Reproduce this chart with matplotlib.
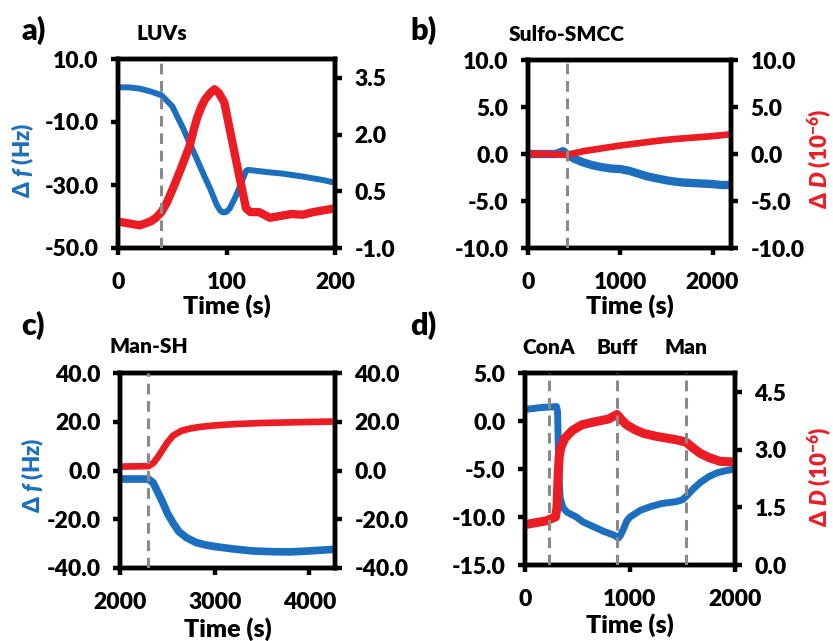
import matplotlib
matplotlib.use("Agg")
import matplotlib.pyplot as plt
import numpy as np

plt.rcParams['font.family'] = ['Lato', 'DejaVu Sans']
plt.rcParams['font.weight'] = 'heavy'
plt.rcParams['mathtext.fontset'] = 'custom'
plt.rcParams['mathtext.rm'] = 'Lato:heavy'
plt.rcParams['mathtext.it'] = 'Lato:italic:heavy'
plt.rcParams['mathtext.bf'] = 'Lato:heavy'

BLUE = '#1c6fbe'
RED = '#ec1c24'
GRAY = '#8a8a8a'
WT = 'heavy'

# ---- panel a: LUVs ----
a_t_f = [0, 10, 20, 30, 40, 50, 60, 66, 70, 80, 85, 88, 91, 94, 96, 98, 100, 103, 108, 113, 118, 120, 130, 140, 150, 160, 170, 180, 190, 200]
a_f = [1.0, 1.0, 0.6, -0.3, -1.5, -5.0, -12.0, -16.7, -19.7, -27.5, -31.2, -33.8, -36.3, -38.0, -38.6, -38.7, -38.5, -37.4, -34.0, -30.0, -25.5, -25.2, -25.6, -26.0, -26.3, -26.8, -27.3, -27.9, -28.5, -29.3]
a_t_d = [0, 10, 20, 30, 35, 40, 45, 51, 58, 66, 70, 73, 77, 80, 85, 89, 93, 98, 104, 110, 114, 118, 122, 130, 140, 150, 160, 170, 180, 190, 200]
a_d = [-0.3, -0.35, -0.4, -0.3, -0.2, -0.05, 0.2, 0.6, 1.1, 1.7, 2.15, 2.45, 2.75, 2.92, 3.1, 3.2, 3.1, 2.85, 2.0, 1.15, 0.6, 0.05, -0.05, -0.05, -0.2, -0.15, -0.1, -0.12, -0.05, 0.0, 0.05]
a_inject = [40]
a_names = ['LUVs']

# ---- panel b: Sulfo-SMCC ----
b_t_f = [0, 300, 380, 420, 500, 600, 700, 800, 900, 1000, 1100, 1200, 1300, 1400, 1500, 1600, 1700, 1800, 1900, 2000, 2100, 2200]
b_f = [0.0, 0.0, 0.3, 0.0, -0.5, -0.9, -1.2, -1.4, -1.55, -1.6, -1.8, -2.1, -2.4, -2.6, -2.8, -2.95, -3.05, -3.1, -3.15, -3.2, -3.3, -3.3]
b_t_d = [0, 200, 420, 600, 800, 1000, 1200, 1400, 1600, 1800, 2000, 2200]
b_d = [0.0, 0.0, -0.1, 0.3, 0.6, 0.9, 1.15, 1.4, 1.6, 1.75, 1.9, 2.1]
b_inject = [420]
b_names = ['Sulfo-SMCC']

# ---- panel c: Man-SH ----
c_t_f = [2000, 2300, 2350, 2400, 2450, 2500, 2560, 2620, 2700, 2800, 2900, 3000, 3200, 3400, 3600, 3800, 4000, 4270]
c_f = [-3.5, -3.5, -5.0, -9.0, -13.0, -17.5, -21.5, -25.0, -27.5, -29.5, -30.5, -31.2, -32.2, -33.0, -33.3, -33.4, -33.0, -32.3]
c_t_d = [2000, 2300, 2350, 2400, 2450, 2500, 2560, 2650, 2750, 2850, 3000, 3200, 3500, 4000, 4270]
c_d = [1.6, 1.8, 3.0, 5.5, 8.5, 11.5, 14.3, 16.3, 17.3, 17.9, 18.5, 19.0, 19.5, 19.9, 20.1]
c_inject = [2300]
c_names = ['Man-SH']

# ---- panel d: ConA / Buff / Man ----
d_t_f = [0, 150, 300, 310, 318, 325, 335, 360, 400, 490, 550, 650, 750, 850, 890, 910, 940, 970, 1000, 1100, 1200, 1300, 1440, 1500, 1540, 1600, 1670, 1750, 1830, 1900, 2000]
d_f = [1.2, 1.4, 1.5, 1.0, -3.0, -6.0, -8.0, -9.0, -9.5, -10.0, -10.5, -11.0, -11.5, -11.9, -12.2, -11.9, -11.2, -10.4, -10.0, -9.3, -8.9, -8.6, -8.4, -8.2, -7.8, -7.1, -6.4, -5.8, -5.4, -5.2, -5.0]
d_t_d = [0, 100, 200, 290, 305, 315, 325, 340, 380, 450, 540, 650, 794, 876, 920, 968, 1050, 1127, 1250, 1444, 1533, 1600, 1667, 1750, 1857, 2000]
d_d = [1.05, 1.1, 1.15, 1.25, 1.5, 2.3, 2.8, 3.05, 3.3, 3.5, 3.65, 3.72, 3.8, 3.92, 3.78, 3.65, 3.52, 3.43, 3.35, 3.26, 3.2, 3.05, 2.91, 2.8, 2.7, 2.68]
d_inject = [230, 880, 1530]
d_names = ['ConA', 'Buff', 'Man']

W, H = 833, 641
fig = plt.figure(figsize=(W / 100, H / 100), dpi=100)


def rect(l, t, r, b):
    return [l / W, 1 - b / H, (r - l) / W, (b - t) / H]


TICK_FS = 16.5


def style(ax):
    for s in ax.spines.values():
        s.set_linewidth(3.2)
    ax.tick_params(direction='out', length=5, width=3.2, labelsize=TICK_FS)
    ax.tick_params(axis='y', pad=9)
    ax.tick_params(axis='x', pad=12)
    for t in ax.get_xticklabels() + ax.get_yticklabels():
        t.set_fontweight(WT)


def panel(pos, tf, f, td, d, inj, names, xlim, xticks, ylim_l, yticks_l, ylim_r, yticks_r,
          lbl, lbl_xy, xlab_y, left_label, right_label, blue_lw=4.5, red_lw=5.0):
    ax = fig.add_axes(rect(*pos))
    ax2 = ax.twinx()
    ax.plot(tf, f, color=BLUE, lw=blue_lw, solid_capstyle='butt', solid_joinstyle='round')
    ax2.plot(td, d, color=RED, lw=red_lw, solid_capstyle='butt', solid_joinstyle='round')
    for xv, nm in zip(inj, names):
        ax2.axvline(xv, color=GRAY, lw=2.2, dashes=(3.5, 2.2), zorder=5)
        ax2.text(xv, 1.135, nm, transform=ax2.get_xaxis_transform(), ha='center', va='center',
                 fontsize=15, fontweight=WT)
    ax.set_xlim(*xlim)
    ax.set_xticks(xticks)
    ax.set_ylim(*ylim_l)
    ax.set_yticks(yticks_l)
    ax.set_yticklabels([f'{v:.1f}' for v in yticks_l])
    ax2.set_ylim(*ylim_r)
    ax2.set_yticks(yticks_r)
    ax2.set_yticklabels([f'{v:.1f}' for v in yticks_r])
    style(ax)
    style(ax2)
    ax.set_xlabel('Time (s)', fontsize=18, fontweight=WT)
    ax.xaxis.label.set_va('center')
    ax.xaxis.set_label_coords(0.5, xlab_y)
    if left_label:
        ax.set_ylabel('Δ $\\mathit{f}$ (Hz)', color=BLUE, fontsize=16, fontweight=WT)
        ax.yaxis.label.set_va('center')
        ax.yaxis.set_label_coords(*left_label)
    if right_label:
        ax2.set_ylabel('Δ $\\mathit{D}$ (10$^{-6}$)', color=RED, fontsize=16, fontweight=WT, rotation=90)
        ax2.yaxis.label.set_va('center')
        ax2.yaxis.set_label_coords(*right_label)
    fig.text(lbl_xy[0] / W, 1 - lbl_xy[1] / H, lbl, fontsize=22, fontweight=WT, ha='left', va='center')
    return ax, ax2


panel((118, 59, 335, 248), a_t_f, a_f, a_t_d, a_d, a_inject, a_names,
      (0, 200), [0, 100, 200], (-50, 10), [-50, -30, -10, 10], (-1, 4), [-1.0, 0.5, 2.0, 3.5],
      'a)', (21, 30), -0.31, (-0.44, 0.466), None, blue_lw=4.3, red_lw=6.0)
panel((528, 60, 731, 248), b_t_f, b_f, b_t_d, b_d, b_inject, b_names,
      (0, 2200), [0, 1000, 2000], (-10, 10), [-10, -5, 0, 5, 10], (-10, 10), [-10, -5, 0, 5, 10],
      'b)', (410, 30), -0.31, None, (1.44, 0.473), blue_lw=6.0, red_lw=4.8)
panel((120, 373, 335, 568), c_t_f, c_f, c_t_d, c_d, c_inject, c_names,
      (2000, 4270), [2000, 3000, 4000], (-40, 40), [-40, -20, 0, 20, 40], (-40, 40), [-40, -20, 0, 20, 40],
      'c)', (21, 325), -0.315, (-0.405, 0.477), None, blue_lw=5.5, red_lw=4.8)
panel((525, 373, 735, 565), d_t_f, d_f, d_t_d, d_d, d_inject, d_names,
      (0, 2000), [0, 1000, 2000], (-15, 5), [-15, -10, -5, 0, 5], (0, 5), [0.0, 1.5, 3.0, 4.5],
      'd)', (410, 325), -0.315, None, (1.405, 0.458), blue_lw=5.0, red_lw=6.5)

fig.savefig('out.png', dpi=100)
